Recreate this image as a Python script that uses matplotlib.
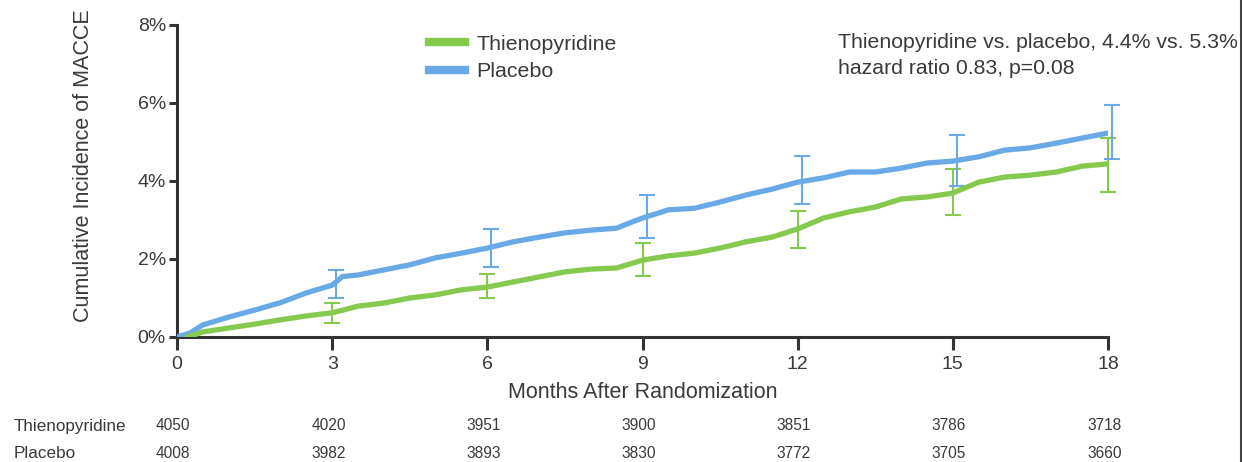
import numpy as np
import matplotlib
matplotlib.use("Agg")
import matplotlib.pyplot as plt
from matplotlib.lines import Line2D

plt.rcParams['font.family'] = ['Liberation Sans', 'DejaVu Sans']

# curve values (percent), every half month
months = [0, 0.25, 0.5, 1, 1.5, 2, 2.5, 3, 3.2, 3.5, 4, 4.5, 5, 5.5, 6, 6.5, 7, 7.5, 8, 8.5,
          8.8, 9, 9.5, 10, 10.5, 11, 11.5, 12, 12.5, 13, 13.5, 14, 14.5, 15, 15.5, 16,
          16.5, 17, 17.5, 18]
placebo = [0, 0.10, 0.31, 0.51, 0.69, 0.88, 1.13, 1.33, 1.55, 1.59, 1.72, 1.85, 2.03, 2.15,
           2.28, 2.44, 2.56, 2.67, 2.74, 2.79, 2.95, 3.05, 3.26, 3.30, 3.46, 3.64, 3.79,
           3.97, 4.08, 4.23, 4.23, 4.33, 4.46, 4.51, 4.62, 4.79, 4.85, 4.97, 5.10, 5.23]

months_t = [0.2, 0.5, 1, 1.5, 2, 2.5, 3, 3.5, 4, 4.5, 5, 5.5, 6, 6.5, 7, 7.5, 8, 8.5, 9,
            9.5, 10, 10.5, 11, 11.5, 12, 12.5, 13, 13.5, 14, 14.5, 15, 15.5, 16, 16.5, 17,
            17.5, 18]
thieno = [0, 0.13, 0.23, 0.33, 0.44, 0.54, 0.62, 0.79, 0.87, 1.00, 1.08, 1.21, 1.28, 1.41,
          1.54, 1.67, 1.74, 1.77, 1.97, 2.08, 2.15, 2.28, 2.44, 2.56, 2.77, 3.05, 3.21,
          3.33, 3.54, 3.59, 3.69, 3.97, 4.10, 4.15, 4.23, 4.38, 4.44]

# error bars at 3-month marks
err_months = [3, 6, 9, 12, 15, 18]
thieno_mid = [0.62, 1.28, 1.97, 2.77, 3.69, 4.44]
thieno_lo = [0.36, 1.00, 1.56, 2.28, 3.13, 3.72]
thieno_hi = [0.87, 1.62, 2.41, 3.23, 4.31, 5.10]
placebo_mid = [1.33, 2.28, 3.05, 3.97, 4.51, 5.23]
placebo_lo = [1.00, 1.80, 2.54, 3.41, 3.87, 4.56]
placebo_hi = [1.72, 2.77, 3.64, 4.64, 5.18, 5.95]

# numbers at risk
risk_months = [0, 3, 6, 9, 12, 15, 18]
risk_thieno = [4050, 4020, 3951, 3900, 3851, 3786, 3718]
risk_placebo = [4008, 3982, 3893, 3830, 3772, 3705, 3660]

green = '#86c94f'
blue = '#68a9e6'
txt = '#3a3a3a'

fig = plt.figure(figsize=(12.43, 4.62), dpi=100)
ax = fig.add_axes([0.1424, 0.2706, 0.7490, 0.6753])

ax.plot(months, placebo, color=blue, lw=3.8, solid_joinstyle='miter', zorder=3)
ax.plot(months_t, thieno, color=green, lw=3.8, solid_joinstyle='miter', zorder=3)

off = 0.08
eb1 = ax.errorbar(err_months, thieno_mid,
                  yerr=[np.subtract(thieno_mid, thieno_lo), np.subtract(thieno_hi, thieno_mid)],
                  fmt='none', ecolor=green, elinewidth=1.5, capsize=5.5, capthick=1.5, zorder=2)
eb2 = ax.errorbar(np.add(err_months, off), placebo_mid,
                  yerr=[np.subtract(placebo_mid, placebo_lo), np.subtract(placebo_hi, placebo_mid)],
                  fmt='none', ecolor=blue, elinewidth=1.5, capsize=5.5, capthick=1.5, zorder=2)
for eb in (eb1, eb2):
    for art in eb.get_children():
        art.set_clip_on(False)

ax.set_xlim(0, 18)
ax.set_ylim(0, 8)
ax.set_xticks(risk_months)
ax.set_yticks([0, 2, 4, 6, 8])
ax.set_yticklabels(['0%', '2%', '4%', '6%', '8%'])
for s in ['top', 'right']:
    ax.spines[s].set_visible(False)
for s in ['left', 'bottom']:
    ax.spines[s].set_linewidth(2.2)
    ax.spines[s].set_color('#333333')
ax.tick_params(axis='x', length=9, width=2.2, color='#333333', labelsize=14,
               labelcolor=txt, pad=5)
ax.tick_params(axis='y', length=6, width=2.2, color='#333333', labelsize=14,
               labelcolor=txt, pad=2)
ax.set_xlabel('Months After Randomization', fontsize=15.5, color=txt, labelpad=6)
ax.set_ylabel('Cumulative Incidence of MACCE', fontsize=15.5, color=txt)
ax.yaxis.set_label_coords(-0.089, 0.548)

handles = [Line2D([], [], color=green, lw=6), Line2D([], [], color=blue, lw=6)]
ax.legend(handles, ['Thienopyridine', 'Placebo'], loc='upper left',
          bbox_to_anchor=(0.25, 1.03), frameon=False, fontsize=15.4,
          handlelength=1.7, handletextpad=0.5, labelspacing=0.38, labelcolor=txt)

fig.text(838 / 1243, 1 - 42 / 462, 'Thienopyridine vs. placebo, 4.4% vs. 5.3%',
         fontsize=15.3, color=txt, va='center', ha='left')
fig.text(838 / 1243, 1 - 68 / 462, 'hazard ratio 0.83, p=0.08',
         fontsize=15.3, color=txt, va='center', ha='left')

# number at risk table
fig.text(14 / 1243, 1 - 426 / 462, 'Thienopyridine', fontsize=12.3, color=txt, va='center')
fig.text(14 / 1243, 1 - 453 / 462, 'Placebo', fontsize=12.3, color=txt, va='center')
for m, a, b in zip(risk_months, risk_thieno, risk_placebo):
    xf = fig.transFigure.inverted().transform(ax.transData.transform((m, 0)))[0]
    fig.text(xf - 0.003, 1 - 426 / 462, str(a), fontsize=11.2, color=txt, ha='center', va='center')
    fig.text(xf - 0.003, 1 - 453 / 462, str(b), fontsize=11.2, color=txt, ha='center', va='center')

# right border of the screenshot
fig.add_artist(Line2D([1240.5 / 1243, 1240.5 / 1243], [0, 1], color='#444444', lw=1.5,
                      transform=fig.transFigure))

fig.savefig('out.png', dpi=100)
